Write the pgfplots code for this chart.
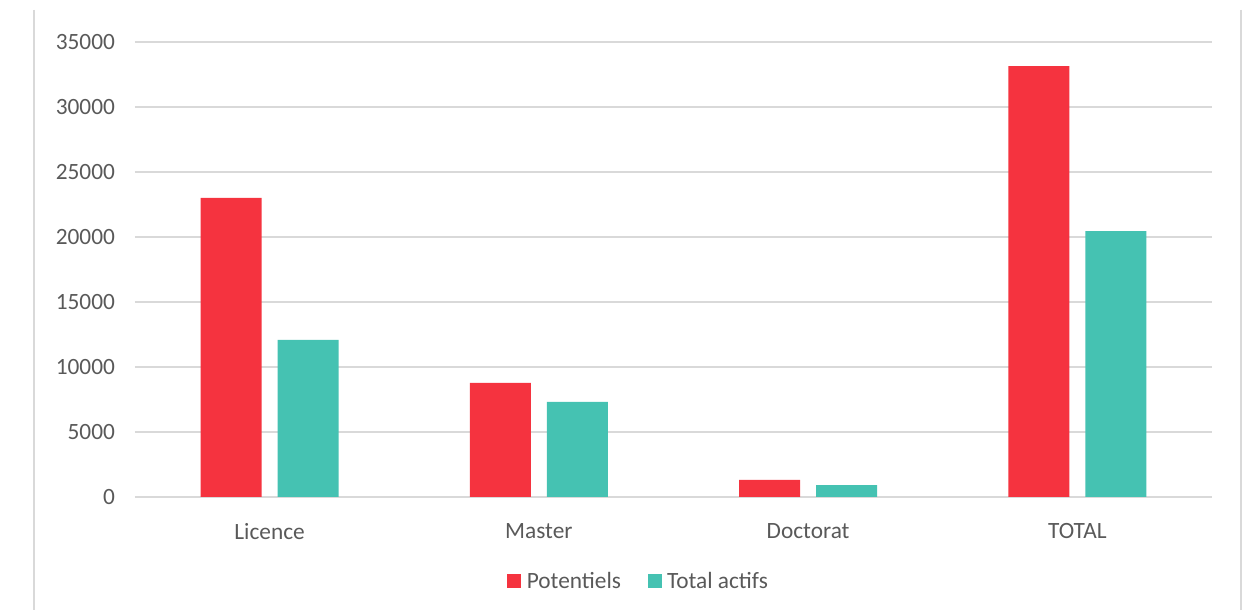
\documentclass[border=0pt]{standalone}
\usepackage{pgfplots}
\pgfplotsset{compat=1.18}
\usepackage{fontspec}
\setmainfont{Carlito}
\definecolor{potred}{RGB}{245,51,63}
\definecolor{actteal}{RGB}{69,194,178}
\definecolor{txtgrey}{RGB}{89,89,89}
\definecolor{gridgrey}{RGB}{217,217,217}

\begin{document}
\begin{tikzpicture}[x=0.75pt,y=0.75pt]
% frame of the chart area (1 unit = 1 px of the reference)
\path[use as bounding box] (-135,-113) rectangle (1111,497);
\draw[gridgrey,line width=1.2pt] (-101,487) -- (-101,-113);
\draw[gridgrey,line width=1.2pt] (1106,487) -- (1106,-113);

\begin{axis}[
  at={(0,0)}, anchor=south west,
  scale only axis,
  width=807.75pt, height=341.25pt,
  xmin=-0.5, xmax=3.5,
  ymin=0, ymax=35000,
  xtick={0,1,2,3},
  xticklabels={Licence,Master,Doctorat,TOTAL},
  ytick distance=5000,
  scaled y ticks=false,
  ymajorgrids,
  major grid style={gridgrey,line width=1.1pt},
  axis line style={draw=none},
  major tick length=0pt,
  tick style={draw=none},
  /pgf/number format/1000 sep={},
  /pgf/number format/assume math mode=true,
  tick label style={font=\fontsize{17.5}{21}\selectfont, text=txtgrey},
  yticklabel style={xshift=-11.5pt},
  xticklabel style={yshift=-16.5pt},
  ybar,
  bar width=0.227,
  legend style={
    at={(0.468,-0.185)}, anchor=center,
    draw=none, fill=none,
    font=\fontsize{17.5}{21}\selectfont, text=txtgrey,
    legend columns=2,
    /tikz/every even column/.append style={column sep=18pt},
  },
  legend image code/.code={\fill[#1] (0pt,-5.25pt) rectangle (10.5pt,5.25pt); \path (12.5pt,0pt);},
]
\addplot[fill=potred, draw=none, bar shift=-0.143] coordinates {
  (0,23000) (1,8770) (2,1310) (3,33150)
};
\addplot[fill=actteal, draw=none, bar shift=0.143] coordinates {
  (0,12080) (1,7310) (2,920) (3,20460)
};
\legend{Potentiels,Total actifs}
\end{axis}
\end{tikzpicture}
\end{document}
